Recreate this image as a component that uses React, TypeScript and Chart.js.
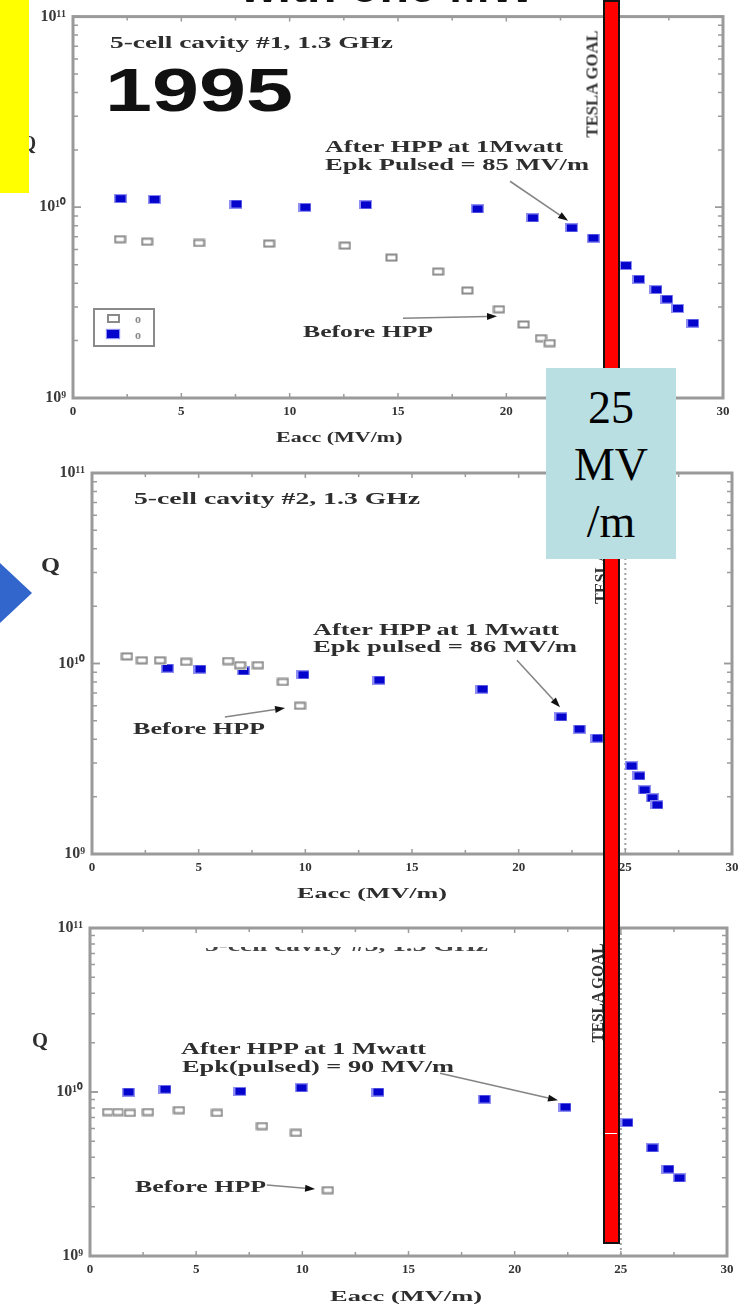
import React, { useEffect, useRef } from 'react';
import { Chart, registerables } from 'chart.js';
Chart.register(...registerables);

// ---------- DATA ----------
const xTickValues = [0, 5, 10, 15, 20, 25, 30];
const goalField = 25;

// Cavity #1 (1995)
const c1BeforeE = [2.17, 3.42, 5.82, 9.05, 12.55, 14.7, 16.85, 18.2, 19.66, 20.8, 21.6, 22.0];
const c1BeforeQ = [6.8e9, 6.6e9, 6.5e9, 6.45e9, 6.3e9, 5.45e9, 4.6e9, 3.66e9, 2.92e9, 2.43e9, 2.06e9, 1.94e9];
const c1AfterE = [2.17, 3.74, 7.52, 10.7, 13.5, 18.65, 21.2, 23.0, 24.0, 25.5, 26.1, 26.9, 27.4, 27.9, 28.6];
const c1AfterQ = [1.11e10, 1.1e10, 1.04e10, 1.0e10, 1.03e10, 9.8e9, 8.8e9, 7.8e9, 6.9e9, 4.95e9, 4.2e9, 3.7e9, 3.3e9, 2.95e9, 2.47e9];

// Cavity #2
const c2BeforeE = [1.64, 2.34, 3.19, 4.41, 6.38, 6.94, 7.78, 8.95, 9.75];
const c2BeforeQ = [1.09e10, 1.04e10, 1.04e10, 1.02e10, 1.03e10, 9.8e9, 9.8e9, 8.0e9, 6.0e9];
const c2AfterE = [3.52, 5.06, 7.08, 9.89, 13.45, 18.28, 21.98, 22.83, 23.67, 25.27, 25.64, 25.88, 26.25, 26.48];
const c2AfterQ = [9.46e9, 9.35e9, 9.14e9, 8.72e9, 8.19e9, 7.34e9, 5.24e9, 4.53e9, 4.06e9, 2.9e9, 2.57e9, 2.17e9, 1.97e9, 1.81e9];

// Cavity #3
const c3BeforeE = [0.85, 1.32, 1.88, 2.73, 4.19, 5.98, 8.1, 9.7, 11.2];
const c3BeforeQ = [7.55e9, 7.55e9, 7.45e9, 7.55e9, 7.76e9, 7.45e9, 6.2e9, 5.63e9, 2.52e9];
const c3AfterE = [1.79, 3.53, 7.06, 9.94, 13.56, 18.56, 22.37, 25.29, 26.47, 27.22, 27.74];
const c3AfterQ = [1.0e10, 1.04e10, 1.01e10, 1.06e10, 1.0e10, 9.06e9, 8.1e9, 6.5e9, 4.56e9, 3.39e9, 2.99e9];

// Annotation arrows in data units: [E1, Q1, E2, Q2]
const c1Arrows = [[20.17, 1.37e10, 22.85, 8.5e9], [15.23, 2.62e9, 19.57, 2.68e9]];
const c2Arrows = [[19.92, 1.04e10, 21.94, 5.9e9], [6.23, 5.24e9, 9.05, 5.84e9]];
const c3Arrows = [[16.48, 1.3e10, 22.04, 8.9e9], [8.33, 2.71e9, 10.6, 2.56e9]];

// ---------- STYLE ----------
const SERIF = '"Liberation Serif", "Times New Roman", serif';
const SANS = '"Liberation Sans", Arial, sans-serif';
const SUP = '⁰¹²³⁴⁵⁶⁷⁸⁹';
const sup = (n: number) => String(n).split('').map((d) => SUP[+d]).join('');

function makeMarker(kind: 'open' | 'filled') {
  const c = document.createElement('canvas');
  c.width = 13;
  c.height = 9;
  const g = c.getContext('2d')!;
  if (kind === 'filled') {
    g.fillStyle = '#8e8ef3';
    g.fillRect(0, 0, 13, 9);
    g.fillStyle = '#0404cc';
    g.fillRect(2, 1, 10, 7);
  } else {
    g.fillStyle = '#ffffff';
    g.fillRect(0, 0, 13, 9);
    g.strokeStyle = '#8a8a8a';
    g.lineWidth = 2;
    g.strokeRect(1.5, 1.5, 10, 6);
  }
  return c;
}

const framePlugin = {
  id: 'frame',
  beforeDatasetsDraw(chart: any, _a: any, opts: any) {
    const { ctx, chartArea: a, scales } = chart;
    const gx = scales.x.getPixelForValue(opts.goal);
    ctx.save();
    ctx.strokeStyle = '#a0a0a0';
    ctx.lineWidth = 2;
    ctx.setLineDash([2, 3]);
    ctx.beginPath();
    ctx.moveTo(gx, a.top);
    ctx.lineTo(gx, a.bottom);
    ctx.stroke();
    ctx.restore();
  },
  afterDatasetsDraw(chart: any, _a: any, opts: any) {
    const { ctx, scales } = chart;
    ctx.save();
    for (const [e1, q1, e2, q2] of opts.arrows) {
      const x1 = scales.x.getPixelForValue(e1);
      const y1 = scales.y.getPixelForValue(q1);
      const x2 = scales.x.getPixelForValue(e2);
      const y2 = scales.y.getPixelForValue(q2);
      const ang = Math.atan2(y2 - y1, x2 - x1);
      const L = 10, W = 3.5;
      const bx = x2 - L * Math.cos(ang), by = y2 - L * Math.sin(ang);
      ctx.strokeStyle = '#858585';
      ctx.lineWidth = 1.6;
      ctx.beginPath();
      ctx.moveTo(x1, y1);
      ctx.lineTo(bx, by);
      ctx.stroke();
      ctx.fillStyle = '#111';
      ctx.beginPath();
      ctx.moveTo(x2, y2);
      ctx.lineTo(bx - W * Math.sin(ang), by + W * Math.cos(ang));
      ctx.lineTo(bx + W * Math.sin(ang), by - W * Math.cos(ang));
      ctx.closePath();
      ctx.fill();
    }
    ctx.restore();
  },
  afterDraw(chart: any) {
    const { ctx, chartArea: a, scales } = chart;
    ctx.save();
    ctx.strokeStyle = '#9b9b9b';
    ctx.lineWidth = 1.5;
    for (let v = 0; v <= 30; v += 2.5) {
      const px = scales.x.getPixelForValue(v);
      const len = v % 5 === 0 ? 5 : 4;
      ctx.beginPath();
      ctx.moveTo(px, a.bottom);
      ctx.lineTo(px, a.bottom - len);
      ctx.moveTo(px, a.top);
      ctx.lineTo(px, a.top + len);
      ctx.stroke();
    }
    for (const n of [9, 10]) {
      for (let k = 1; k <= 10; k++) {
        const py = scales.y.getPixelForValue(k * Math.pow(10, n));
        const len = k === 1 || k === 10 ? 8 : 5;
        ctx.beginPath();
        ctx.moveTo(a.left, py);
        ctx.lineTo(a.left + len, py);
        ctx.moveTo(a.right, py);
        ctx.lineTo(a.right - len, py);
        ctx.stroke();
      }
    }
    ctx.strokeStyle = '#9a9a9a';
    ctx.lineWidth = 3;
    ctx.strokeRect(a.left, a.top, a.right - a.left, a.bottom - a.top);
    ctx.restore();
  },
};

type PlotProps = {
  top: number;
  height: number;
  left: number;
  right: number;
  areaTop: number;
  areaBottom: number;
  beforeE: number[];
  beforeQ: number[];
  afterE: number[];
  afterQ: number[];
  arrows: number[][];
};

function Plot(p: PlotProps) {
  const ref = useRef<HTMLCanvasElement>(null);
  useEffect(() => {
    const openImg = makeMarker('open');
    const fillImg = makeMarker('filled');
    const tickFont = { family: SERIF, size: 13, weight: 'bold' as const };
    const yTickFont = { family: SERIF, size: 16, weight: 'bold' as const };
    const chart = new Chart(ref.current!, {
      type: 'scatter',
      data: {
        datasets: [
          {
            data: p.beforeE.map((e, i) => ({ x: e, y: p.beforeQ[i] })),
            pointStyle: openImg as any,
            pointRadius: 6,
          },
          {
            data: p.afterE.map((e, i) => ({ x: e, y: p.afterQ[i] })),
            pointStyle: fillImg as any,
            pointRadius: 6,
          },
        ],
      },
      options: {
        animation: false,
        responsive: false,
        maintainAspectRatio: false,
        layout: { padding: { top: p.areaTop, right: 747 - p.right, left: 0, bottom: 0 } },
        plugins: {
          legend: { display: false },
          tooltip: { enabled: false },
          frame: { goal: goalField, arrows: p.arrows },
        } as any,
        scales: {
          x: {
            type: 'linear',
            min: 0,
            max: 30,
            afterBuildTicks: (s: any) => {
              s.ticks = xTickValues.map((v) => ({ value: v }));
            },
            ticks: { padding: 6, font: tickFont, color: '#333', autoSkip: false },
            grid: { display: false, drawTicks: false },
            border: { display: false },
            afterFit: (s: any) => {
              s.height = p.height - p.areaBottom;
            },
          },
          y: {
            type: 'logarithmic',
            min: 1e9,
            max: 1e11,
            ticks: {
              autoSkip: false,
              padding: 7,
              font: yTickFont,
              color: '#3a3a3a',
              callback: (v: any) => {
                const l = Math.log10(Number(v));
                return Math.abs(l - Math.round(l)) < 1e-6 ? '10' + sup(Math.round(l)) : '';
              },
            },
            grid: { display: false, drawTicks: false },
            border: { display: false },
            afterFit: (s: any) => {
              s.width = p.left;
            },
          },
        },
      },
      plugins: [framePlugin as any],
    });
    return () => chart.destroy();
  }, []);
  return (
    <canvas
      ref={ref}
      width={747}
      height={p.height}
      style={{ position: 'absolute', left: 0, top: p.top, width: 747, height: p.height, display: 'block' }}
    />
  );
}

// ---------- TEXT ----------
const measureCanvas = document.createElement('canvas');
const mctx = measureCanvas.getContext('2d')!;

type T = { t: string; x: number; cy: number; w: number; fs: number; fam?: string; col?: string; wt?: string };

function Txt({ t, x, cy, w, fs, fam = SERIF, col = '#2e2e2e', wt = 'bold' }: T) {
  mctx.font = `${wt} ${fs}px ${fam}`;
  const m = mctx.measureText(t).width || 1;
  return (
    <div
      style={{
        position: 'absolute',
        left: x,
        top: cy - fs * 0.5,
        fontFamily: fam,
        fontWeight: wt as any,
        fontSize: fs,
        lineHeight: `${fs}px`,
        color: col,
        whiteSpace: 'nowrap',
        transformOrigin: 'left center',
        transform: `scaleX(${w / m})`,
      }}
    >
      {t}
    </div>
  );
}

function VTxt({ t, cx, cy, len, fs }: { t: string; cx: number; cy: number; len: number; fs: number }) {
  mctx.font = `bold ${fs}px ${SERIF}`;
  const m = mctx.measureText(t).width || 1;
  return (
    <div
      style={{
        position: 'absolute',
        left: cx,
        top: cy,
        fontFamily: SERIF,
        fontWeight: 'bold',
        fontSize: fs,
        lineHeight: `${fs}px`,
        color: '#333',
        whiteSpace: 'nowrap',
        transform: `translate(-50%, -50%) rotate(-90deg) scaleX(${len / m})`,
      }}
    >
      {t}
    </div>
  );
}

const labels: T[] = [
  { t: '5-cell cavity #1, 1.3 GHz', x: 110, cy: 42, w: 283, fs: 17 },
  { t: '1995', x: 105, cy: 90, w: 188, fs: 62, fam: SANS, col: '#111' },
  { t: 'After HPP at 1Mwatt', x: 325, cy: 147, w: 240, fs: 16 },
  { t: 'Epk Pulsed = 85 MV/m', x: 325, cy: 165, w: 264, fs: 16 },
  { t: 'Before HPP', x: 303, cy: 332, w: 130, fs: 16 },
  { t: 'Eacc  (MV/m)', x: 276, cy: 437, w: 132, fs: 15 },
  { t: 'Q', x: 22, cy: 143, w: 14, fs: 20 },

  { t: '5-cell cavity #2, 1.3 GHz', x: 134, cy: 498, w: 286, fs: 17 },
  { t: 'After HPP at 1 Mwatt', x: 313, cy: 630, w: 248, fs: 16 },
  { t: 'Epk pulsed = 86 MV/m', x: 313, cy: 647, w: 264, fs: 16 },
  { t: 'Before HPP', x: 133, cy: 729, w: 132, fs: 16 },
  { t: 'Q', x: 41, cy: 565, w: 19, fs: 20 },
  { t: 'Eacc (MV/m)', x: 297, cy: 893, w: 150, fs: 15 },

  { t: 'After HPP at 1 Mwatt', x: 181, cy: 1049, w: 247, fs: 16 },
  { t: 'Epk(pulsed) = 90 MV/m', x: 182, cy: 1067, w: 272, fs: 16 },
  { t: 'Before HPP', x: 135, cy: 1187, w: 131, fs: 16 },
  { t: 'Q', x: 32, cy: 1040, w: 16, fs: 20 },
  { t: 'Eacc (MV/m)', x: 330, cy: 1296, w: 152, fs: 15 },
];

const legendMarkOpen: React.CSSProperties = {
  position: 'absolute', width: 9, height: 5, border: '2px solid #8a8a8a', background: '#fff',
};
const legendMarkFill: React.CSSProperties = {
  position: 'absolute', width: 12, height: 8, background: '#0404cc', boxShadow: '0 0 1px 1px #9090f3',
};
const legendO: React.CSSProperties = {
  position: 'absolute', fontFamily: SERIF, fontWeight: 'bold', fontSize: 12, lineHeight: '12px', color: '#888',
};

export default function App() {
  return (
    <div
      style={{
        position: 'absolute', left: 0, top: 0, width: 747, height: 1304, overflow: 'hidden', background: '#fff',
      }}
    >
      <Plot top={0} height={450} left={73} right={723} areaTop={15} areaBottom={398}
        beforeE={c1BeforeE} beforeQ={c1BeforeQ} afterE={c1AfterE} afterQ={c1AfterQ} arrows={c1Arrows} />
      <Plot top={450} height={450} left={92} right={732} areaTop={23} areaBottom={404}
        beforeE={c2BeforeE} beforeQ={c2BeforeQ} afterE={c2AfterE} afterQ={c2AfterQ} arrows={c2Arrows} />
      <Plot top={900} height={404} left={90} right={727} areaTop={28} areaBottom={356}
        beforeE={c3BeforeE} beforeQ={c3BeforeQ} afterE={c3AfterE} afterQ={c3AfterQ} arrows={c3Arrows} />

      {labels.map((l, i) => (
        <Txt key={i} {...l} />
      ))}

      {/* clipped caption of cavity #3 */}
      <div style={{ position: 'absolute', left: 0, top: 947, width: 747, height: 14, overflow: 'hidden' }}>
        <div style={{ position: 'absolute', left: 0, top: -947, width: 747, height: 1000 }}>
          <Txt t="5-cell cavity #3, 1.3 GHz" x={205} cy={945} w={283} fs={17} col="#444" />
        </div>
      </div>

      {/* title cut off at top */}
      <Txt t="with one MW" x={240} cy={-14.5} w={295} fs={48} fam={SANS} col="#111" />

      <VTxt t="TESLA GOAL" cx={592} cy={84} len={108} fs={17} />
      <VTxt t="TESLA GOAL" cx={600} cy={552} len={105} fs={17} />
      <VTxt t="TESLA GOAL" cx={597} cy={993} len={100} fs={17} />

      {/* legend of first plot */}
      <div style={{ position: 'absolute', left: 93, top: 308, width: 58, height: 35, border: '2px solid #8a8a8a' }}>
        <div style={{ ...legendMarkOpen, left: 12, top: 4 }} />
        <div style={{ ...legendO, left: 40, top: 3 }}>o</div>
        <div style={{ ...legendMarkFill, left: 12, top: 20 }} />
        <div style={{ ...legendO, left: 40, top: 19 }}>o</div>
      </div>

      {/* overlays */}
      <div style={{ position: 'absolute', left: 0, top: 0, width: 29, height: 193, background: '#ffff00' }} />
      <div
        style={{
          position: 'absolute', left: 603, top: 0, width: 13, height: 1240, background: '#ff0000', border: '2px solid #111',
        }}
      />
      <div style={{ position: 'absolute', left: 605, top: 1133, width: 12, height: 1, background: '#fff' }} />
      <div
        style={{
          position: 'absolute', left: 546, top: 368, width: 130, height: 191, background: '#b9dfe3',
          boxSizing: 'border-box', paddingTop: 11, textAlign: 'center', fontFamily: SERIF, fontSize: 46,
          lineHeight: '57px', color: '#000',
        }}
      >
        <div>25</div>
        <div>MV</div>
        <div>/m</div>
      </div>
      <div
        style={{
          position: 'absolute', left: 0, top: 563, width: 32, height: 60, background: '#3366cc',
          clipPath: 'polygon(0 0, 100% 50%, 0 100%)',
        }}
      />
    </div>
  );
}
